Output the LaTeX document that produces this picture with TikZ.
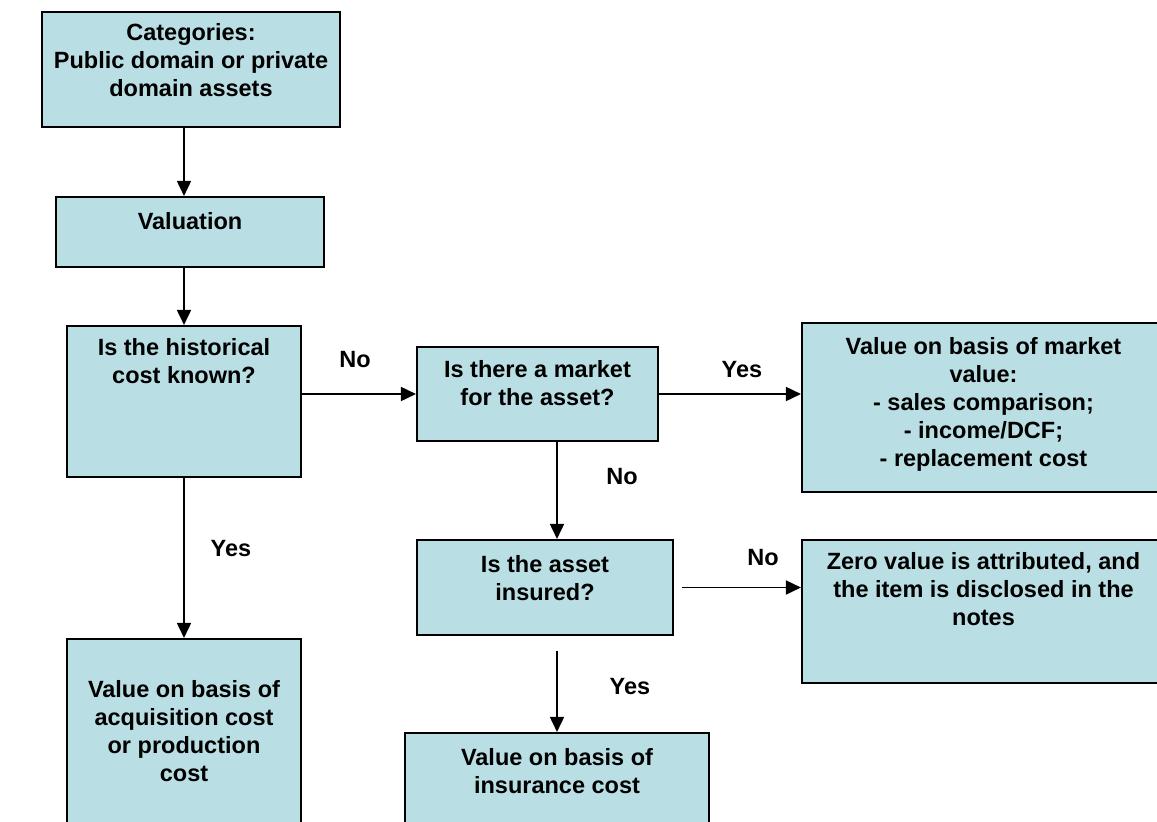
\documentclass[tikz,border=0pt]{standalone}
\usepackage{fontspec}
\setmainfont{Liberation Sans}
\usetikzlibrary{arrows.meta,positioning}
\definecolor{celeste}{RGB}{185,223,228}

\begin{document}
\begin{tikzpicture}[x=1pt,y=-1pt,
        caja/.style={draw, fill=celeste, line width=2.1pt, inner sep=0pt},
        texto/.style={align=center, inner sep=0pt, font=\bfseries\fontsize{23.5}{28}\selectfont},
        flecha/.style={-{Triangle[length=15pt,width=14pt]}, line width=1.7pt}]
        \clip (0,0) rectangle (1157,822);

        %Columna izquierda
        \node[caja, minimum width=298pt, minimum height=115pt] (cat) at (191,69.5) {};
        \node[texto, below=12.5pt of cat.north] (tcat) {Categories:\\Public domain or private\\domain assets};

        \node[caja, minimum width=268pt, minimum height=70pt] (val) at (190,232) {};
        \node[texto, below=16.5pt of val.north] (tval) {Valuation};

        \node[caja, minimum width=234pt, minimum height=151pt] (hist) at (184,401.5) {};
        \node[texto, below=13.5pt of hist.north] (thist) {Is the historical\\cost known?};

        \node[caja, minimum width=234pt, minimum height=196pt] (acq) at (184,737) {};
        \node[texto, below=42.5pt of acq.north] (tacq) {Value on basis of\\acquisition cost\\or production\\cost};

        %Columna central
        \node[caja, minimum width=241pt, minimum height=94pt] (mkt) at (537.5,394) {};
        \node[texto, below=14.5pt of mkt.north] (tmkt) {Is there a market\\for the asset?};

        \node[caja, minimum width=256pt, minimum height=95pt] (ins) at (545,587.5) {};
        \node[texto, below=16.5pt of ins.north] (tins) {Is the asset\\insured?};

        \node[caja, minimum width=304pt, minimum height=107pt] (insc) at (557,786.5) {};
        \node[texto, below=16.5pt of insc.north] (tinsc) {Value on basis of\\insurance cost};

        %Columna derecha
        \node[caja, minimum width=363pt, minimum height=169pt] (mv) at (983.5,407.5) {};
        \node[texto, below=15.5pt of mv.north] (tmv) {Value on basis of market\\value:\\- sales comparison;\\- income/DCF;\\- replacement cost};

        \node[caja, minimum width=363pt, minimum height=143pt] (zero) at (983.5,611.5) {};
        \node[texto, below=13.5pt of zero.north] (tzero) {Zero value is attributed, and\\the item is disclosed in the\\notes};

        %Flechas entre cajas
        \draw[flecha] (cat.south -| hist.north) -- (val.north -| hist.north);
        \draw[flecha] (val.south -| hist.north) -- (hist.north);
        \draw[flecha] (hist.south) -- (acq.north);
        \draw[flecha] (hist.east |- mkt.west) -- (mkt.west);
        \draw[flecha] (mkt.east) -- (mv.west |- mkt.east);
        \draw[flecha] (mkt.south -| insc.north) -- (ins.north -| insc.north);

        \coordinate (insd) at ([xshift=8pt]ins.east);
        \draw[flecha] (insd) -- (zero.west |- insd);

        \coordinate (insb) at (ins.south -| insc.north);
        \draw[flecha] ([yshift=-15pt]insb) -- (insc.north);

        %Respuestas
        \node[texto] (no1) at (355,360) {No};
        \node[texto] (si1) at (742,370) {Yes};
        \node[texto] (no2) at (622,477) {No};
        \node[texto] (no3) at (763,558) {No};
        \node[texto] (si2) at (630,687) {Yes};
        \node[texto] (si3) at (231,549) {Yes};
    \end{tikzpicture}
\end{document}
